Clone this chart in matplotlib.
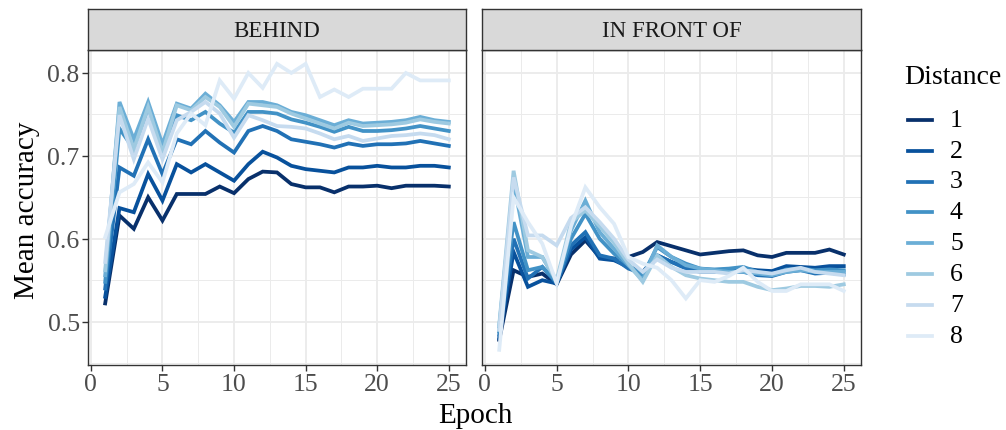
import matplotlib
matplotlib.use("Agg")
import matplotlib.pyplot as plt
from matplotlib.lines import Line2D
import numpy as np

plt.rcParams['font.family'] = ['Liberation Serif', 'DejaVu Serif']

# data
epochs = list(range(1, 26))
distances = ["1", "2", "3", "4", "5", "6", "7", "8"]
colors = ["#08306B", "#08519C", "#2171B5", "#4292C6",
          "#6BAED6", "#9ECAE1", "#C6DBEF", "#DEEBF7"]
panels = ["BEHIND", "IN FRONT OF"]

behind_1 = [0.522, 0.628, 0.612, 0.650, 0.622, 0.654, 0.654, 0.654, 0.663, 0.655, 0.672, 0.681, 0.680,
            0.666, 0.662, 0.662, 0.656, 0.663, 0.663, 0.664, 0.661, 0.664, 0.664, 0.664, 0.663]
behind_2 = [0.530, 0.637, 0.632, 0.678, 0.646, 0.690, 0.680, 0.690, 0.680, 0.670, 0.690, 0.705, 0.698,
            0.688, 0.684, 0.682, 0.680, 0.686, 0.686, 0.688, 0.686, 0.686, 0.688, 0.688, 0.686]
behind_3 = [0.540, 0.686, 0.676, 0.720, 0.678, 0.720, 0.714, 0.730, 0.716, 0.704, 0.730, 0.736, 0.730,
            0.720, 0.717, 0.714, 0.710, 0.715, 0.712, 0.714, 0.714, 0.715, 0.718, 0.715, 0.712]
behind_4 = [0.548, 0.733, 0.708, 0.755, 0.708, 0.749, 0.743, 0.753, 0.739, 0.728, 0.753, 0.753, 0.751,
            0.744, 0.740, 0.735, 0.729, 0.735, 0.730, 0.730, 0.731, 0.733, 0.736, 0.733, 0.730]
behind_5 = [0.556, 0.765, 0.720, 0.765, 0.714, 0.763, 0.757, 0.775, 0.761, 0.741, 0.765, 0.765, 0.761,
            0.753, 0.749, 0.743, 0.737, 0.743, 0.739, 0.740, 0.741, 0.743, 0.747, 0.743, 0.741]
behind_6 = [0.562, 0.759, 0.708, 0.759, 0.704, 0.761, 0.755, 0.771, 0.759, 0.735, 0.763, 0.761, 0.759,
            0.751, 0.745, 0.739, 0.733, 0.740, 0.736, 0.737, 0.738, 0.740, 0.744, 0.741, 0.739]
behind_7 = [0.572, 0.749, 0.696, 0.745, 0.696, 0.743, 0.753, 0.765, 0.751, 0.722, 0.749, 0.743, 0.736,
            0.735, 0.733, 0.727, 0.720, 0.724, 0.718, 0.721, 0.724, 0.725, 0.727, 0.725, 0.720]
behind_8 = [0.602, 0.656, 0.666, 0.692, 0.668, 0.727, 0.751, 0.737, 0.791, 0.769, 0.800, 0.782, 0.811,
            0.800, 0.811, 0.771, 0.780, 0.771, 0.781, 0.781, 0.781, 0.800, 0.791, 0.791, 0.791]

front_1 = [0.478, 0.562, 0.554, 0.558, 0.545, 0.581, 0.598, 0.578, 0.576, 0.578, 0.584, 0.596, 0.591,
           0.586, 0.581, 0.583, 0.585, 0.586, 0.580, 0.578, 0.583, 0.583, 0.583, 0.587, 0.581]
front_2 = [0.480, 0.584, 0.542, 0.550, 0.546, 0.587, 0.602, 0.576, 0.574, 0.566, 0.560, 0.580, 0.572,
           0.566, 0.563, 0.562, 0.563, 0.564, 0.562, 0.561, 0.567, 0.566, 0.565, 0.567, 0.567]
front_3 = [0.484, 0.600, 0.552, 0.566, 0.546, 0.592, 0.608, 0.580, 0.576, 0.564, 0.558, 0.580, 0.572,
           0.564, 0.560, 0.560, 0.561, 0.560, 0.556, 0.555, 0.560, 0.562, 0.558, 0.559, 0.557]
front_4 = [0.488, 0.620, 0.562, 0.566, 0.548, 0.600, 0.630, 0.600, 0.582, 0.568, 0.556, 0.590, 0.578,
           0.570, 0.564, 0.563, 0.564, 0.566, 0.560, 0.557, 0.563, 0.564, 0.562, 0.563, 0.562]
front_5 = [0.494, 0.668, 0.578, 0.578, 0.548, 0.610, 0.646, 0.608, 0.588, 0.568, 0.550, 0.592, 0.578,
           0.568, 0.564, 0.562, 0.560, 0.560, 0.558, 0.556, 0.560, 0.562, 0.560, 0.560, 0.560]
front_6 = [0.496, 0.682, 0.586, 0.578, 0.550, 0.620, 0.634, 0.615, 0.595, 0.570, 0.548, 0.580, 0.566,
           0.556, 0.552, 0.550, 0.548, 0.548, 0.542, 0.538, 0.540, 0.543, 0.543, 0.542, 0.545]
front_7 = [0.490, 0.674, 0.604, 0.604, 0.592, 0.625, 0.638, 0.620, 0.600, 0.575, 0.560, 0.575, 0.565,
           0.560, 0.560, 0.560, 0.558, 0.562, 0.560, 0.558, 0.562, 0.565, 0.560, 0.558, 0.556]
front_8 = [0.466, 0.650, 0.620, 0.594, 0.546, 0.615, 0.662, 0.638, 0.618, 0.578, 0.570, 0.565, 0.550,
           0.528, 0.550, 0.548, 0.555, 0.565, 0.548, 0.537, 0.537, 0.545, 0.545, 0.545, 0.537]

behind = [behind_1, behind_2, behind_3, behind_4, behind_5, behind_6, behind_7, behind_8]
front = [front_1, front_2, front_3, front_4, front_5, front_6, front_7, front_8]

W, H = 1006, 431
fig = plt.figure(figsize=(W / 100, H / 100), dpi=100)

grid_col = "#EBEBEB"
border_col = "#333333"
axes_px = [(88, 378), (482, 379)]
top_px, bottom_px = 51, 366
lw = 2.7

for k, (x0, w) in enumerate(axes_px):
    ax = fig.add_axes([x0 / W, (H - bottom_px) / H, w / W, (bottom_px - top_px) / H])
    series = behind if k == 0 else front
    for vals, c, d in zip(series, colors, distances):
        ax.plot(epochs, vals, color=c, lw=lw, solid_joinstyle="miter", label=d)
    ax.set_xlim(-0.2, 26.2)
    ax.set_ylim(0.4477, 0.8277)
    ax.set_xticks([0, 5, 10, 15, 20, 25])
    ax.set_xticks([2.5, 7.5, 12.5, 17.5, 22.5], minor=True)
    ax.set_yticks([0.5, 0.6, 0.7, 0.8])
    ax.set_yticks([0.45, 0.55, 0.65, 0.75], minor=True)
    ax.grid(which="major", color=grid_col, lw=1.3)
    ax.grid(which="minor", color=grid_col, lw=0.7)
    ax.set_axisbelow(True)
    for s in ax.spines.values():
        s.set_color(border_col)
        s.set_linewidth(1.0)
    ax.tick_params(which="minor", length=0)
    ax.tick_params(which="major", length=4, width=1.0, color=border_col,
                   labelsize=18.5, labelcolor="#4D4D4D", pad=2)
    if k == 0:
        ax.set_yticklabels(["0.5", "0.6", "0.7", "0.8"])
    else:
        ax.tick_params(axis="y", left=False, labelleft=False)

    # facet strip
    sax = fig.add_axes([x0 / W, (H - top_px) / H, w / W, 41 / H])
    sax.set_xticks([])
    sax.set_yticks([])
    sax.set_facecolor("#D9D9D9")
    for s in sax.spines.values():
        s.set_color(border_col)
        s.set_linewidth(1.0)
    sax.text(0.5, 0.48, panels[k], ha="center", va="center", fontsize=16.5,
             color="#1A1A1A", transform=sax.transAxes)

fig.text(475 / W, 1 - 416 / H, "Epoch", ha="center", va="center", fontsize=21)
fig.text(27 / W, 1 - 210 / H, "Mean accuracy", ha="center", va="center",
         rotation=90, fontsize=21)

# legend
fig.text(904 / W, 1 - 78 / H, "Distance", ha="left", va="center", fontsize=20)
for i, (d, c) in enumerate(zip(distances, colors)):
    yy = 1 - (120.7 + i * 30.9) / H
    fig.add_artist(Line2D([908 / W, 932 / W], [yy, yy], color=c, lw=lw,
                          transform=fig.transFigure))
    fig.text(950 / W, yy, d, ha="left", va="center", fontsize=18.5)

fig.savefig("out.png", dpi=100)
